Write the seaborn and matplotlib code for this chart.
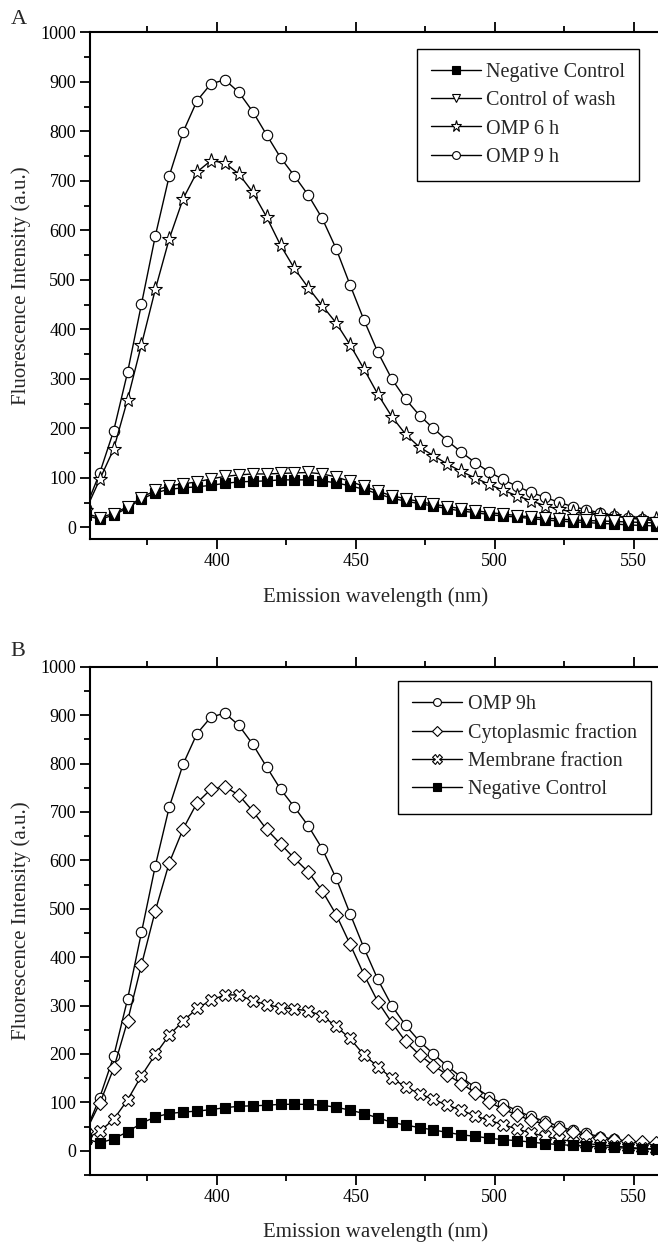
import numpy as np
import matplotlib
matplotlib.use('Agg')
import matplotlib.pyplot as plt
import seaborn as sns
from matplotlib.ticker import MultipleLocator

sns.set_style('ticks')
plt.rcParams['font.family'] = ['Liberation Serif', 'DejaVu Serif']

# emission wavelength (nm), one reading every 5 nm
wavelength = [353, 358, 363, 368, 373, 378, 383, 388, 393, 398, 403, 408, 413, 418,
              423, 428, 433, 438, 443, 448, 453, 458, 463, 468, 473, 478, 483, 488,
              493, 498, 503, 508, 513, 518, 523, 528, 533, 538, 543, 548, 553, 558]

neg_control = [25, 16, 25, 39, 57, 70, 77, 80, 82, 85, 89, 92, 93, 94,
               96, 96, 96, 94, 90, 84, 77, 68, 59, 53, 48, 43, 38, 33,
               30, 26, 23, 21, 18, 15, 13, 11, 10, 8, 7, 5, 4, 3]
wash_control = [28, 20, 28, 42, 60, 75, 84, 88, 92, 98, 103, 106, 108, 108,
                109, 110, 111, 108, 102, 93, 83, 73, 64, 58, 52, 47, 42, 38,
                34, 30, 27, 24, 21, 19, 17, 15, 14, 13, 12, 11, 10, 9]
omp_6h = [35, 97, 158, 258, 369, 481, 583, 664, 718, 741, 736, 714, 677, 627,
          570, 523, 484, 448, 413, 369, 320, 269, 224, 188, 162, 145, 128, 113,
          100, 87, 75, 64, 54, 44, 37, 31, 28, 25, 23, 20, 18, 16]
omp_9h = [40, 110, 195, 313, 451, 589, 710, 799, 862, 896, 904, 879, 840, 793,
          747, 710, 671, 624, 563, 490, 419, 354, 300, 259, 226, 200, 175, 152,
          131, 112, 97, 83, 71, 61, 51, 42, 36, 29, 24, 19, 16, 13]
cytoplasmic = [40, 98, 170, 268, 384, 496, 595, 665, 719, 747, 752, 735, 702, 664,
               634, 604, 576, 537, 488, 427, 364, 308, 265, 226, 198, 176, 157, 139,
               120, 101, 86, 74, 63, 55, 45, 38, 31, 26, 23, 20, 18, 16]
membrane = [25, 40, 65, 105, 155, 199, 239, 268, 294, 311, 322, 322, 310, 302,
            296, 293, 289, 279, 257, 232, 198, 174, 150, 132, 118, 106, 94, 84,
            72, 63, 54, 45, 37, 30, 24, 19, 15, 12, 10, 7, 5, 4]

W, H = 658, 1248
fig = plt.figure(figsize=(W / 100, H / 100), dpi=100)
axA = fig.add_axes([90 / W, 1 - 539.3 / H, 571.5 / W, 507 / H])
axB = fig.add_axes([90 / W, 1 - 1175 / H, 571.5 / W, 508.3 / H])


def draw(ax, y, marker, label, ms=7):
    sns.lineplot(x=wavelength, y=y, ax=ax, color='black', linewidth=1.0,
                 marker=marker, markersize=ms, markerfacecolor='white',
                 markeredgecolor='black', markeredgewidth=0.8, label=label)


draw(axA, omp_9h, 'o', 'OMP 9 h', 7.5)
draw(axA, omp_6h, '*', 'OMP 6 h', 11)
draw(axA, neg_control, 's', 'Negative Control', 7)
axA.lines[-1].set_markerfacecolor('black')
draw(axA, wash_control, 'v', 'Control of wash', 8)

draw(axB, omp_9h, 'o', 'OMP 9h', 7.5)
draw(axB, cytoplasmic, 'D', 'Cytoplasmic fraction', 7)
draw(axB, membrane, 'X', 'Membrane fraction', 9)
draw(axB, neg_control, 's', 'Negative Control', 7)
axB.lines[-1].set_markerfacecolor('black')

orderA = ['Negative Control', 'Control of wash', 'OMP 6 h', 'OMP 9 h']
orderB = ['OMP 9h', 'Cytoplasmic fraction', 'Membrane fraction', 'Negative Control']

for ax, ylo, order, anchor in [(axA, -24, orderA, (0.572, 0.967)),
                               (axB, -50, orderB, (0.539, 0.972))]:
    ax.set_xlim(354.5, 560)
    ax.set_ylim(ylo, 1000)
    ax.xaxis.set_major_locator(MultipleLocator(50))
    ax.xaxis.set_minor_locator(MultipleLocator(25))
    ax.yaxis.set_major_locator(MultipleLocator(100))
    ax.yaxis.set_minor_locator(MultipleLocator(50))
    ax.tick_params(which='both', direction='out', top=True, right=False,
                   labeltop=False, width=1.3, colors='black', labelsize=13, pad=3)
    ax.tick_params(which='major', length=7)
    ax.tick_params(which='minor', length=4)
    for side in ['left', 'bottom', 'top']:
        ax.spines[side].set_linewidth(1.5)
        ax.spines[side].set_color('black')
    ax.spines['right'].set_visible(False)
    ax.set_xlabel('Emission wavelength (nm)', fontsize=15, labelpad=12)
    ax.set_ylabel('Fluorescence Intensity (a.u.)', fontsize=15, labelpad=7)

    handles, labels = ax.get_legend_handles_labels()
    lookup = dict(zip(labels, handles))
    leg = ax.legend([lookup[k] for k in order], order, loc='upper left',
                    bbox_to_anchor=anchor, borderaxespad=0, frameon=True,
                    fancybox=False, edgecolor='black', framealpha=1,
                    fontsize=14.5, handlelength=2.5, labelspacing=0.45,
                    borderpad=0.7, handletextpad=0.25, markerscale=0.75)
    leg.get_frame().set_linewidth(1.0)

fig.text(19 / W, 1 - 19 / H, 'A', ha='center', va='center', fontsize=16)
fig.text(18 / W, 1 - 652 / H, 'B', ha='center', va='center', fontsize=16)

fig.savefig('out.png', dpi=100)
